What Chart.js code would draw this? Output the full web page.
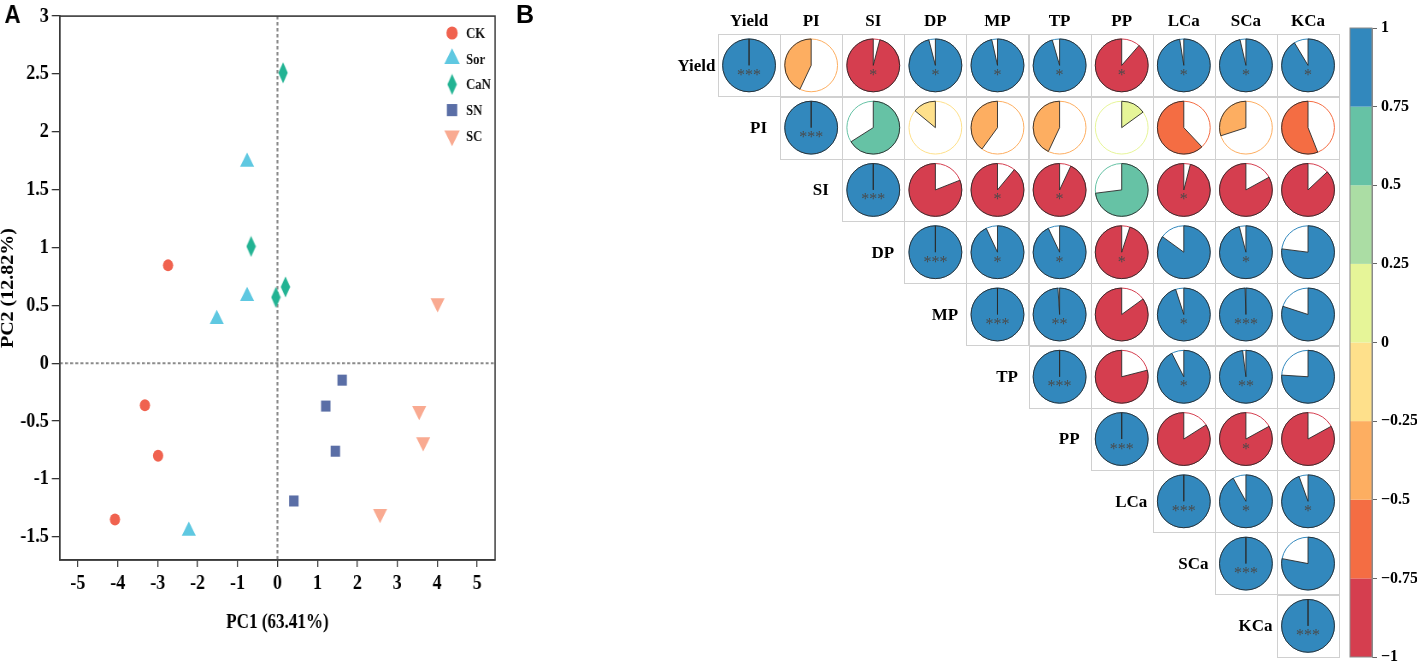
<!DOCTYPE html>
<html>
<head>
<meta charset="utf-8">
<title>PCA and correlation</title>
<script src="https://cdn.jsdelivr.net/npm/chart.js@4.4.1/dist/chart.umd.min.js"></script>
<style>
  html, body { margin: 0; padding: 0; background: #fff; overflow: hidden; }
  /* panel A is drawn wide and squeezed, like the original figure */
  #wrapA { position: absolute; left: 0; top: 0; width: 596px; height: 662px; transform: scaleX(0.855); transform-origin: 0 0; }
  #wrapB { position: absolute; left: 505px; top: 0; width: 912px; height: 672px; }
</style>
</head>
<body>
<div id="wrapA"><canvas id="pcaChart"></canvas></div>
<div id="wrapB"><canvas id="corrChart"></canvas></div>
<script>
// ---- panel A data ----
const groupNames = ['CK', 'Sor', 'CaN', 'SN', 'SC'];
const groupColors = ['#F0624F', '#5FC8E1', '#22B393', '#5A6EA6', '#F9AA91'];
const pc1Values = [
    [-2.74, -3.32, -2.99, -4.07],
    [-0.76, -0.76, -1.52, -2.22],
    [0.14, -0.66, 0.20, -0.04],
    [1.62, 1.21, 1.45, 0.41],
    [4.01, 3.55, 3.65, 2.57]
];
const pc2Values = [
    [0.846, -0.363, -0.80, -1.35],
    [1.74, 0.58, 0.38, -1.45],
    [2.51, 1.01, 0.66, 0.57],
    [-0.146, -0.37, -0.76, -1.19],
    [0.52, -0.41, -0.68, -1.30]
];
const pc1Ticks = [-5, -4, -3, -2, -1, 0, 1, 2, 3, 4, 5];
const pc2Ticks = [-1.5, -1, -0.5, 0, 0.5, 1, 1.5, 2, 2.5, 3];

// ---- panel B data ----
const varNames = ['Yield', 'PI', 'SI', 'DP', 'MP', 'TP', 'PP', 'LCa', 'SCa', 'KCa'];
// upper triangle: row i holds r for columns i..9
const corrRows = [
    [1, -0.43, -0.96, 0.96, 0.965, 0.955, -0.886, 0.975, 0.964, 0.914],
    [1, 0.66, -0.14, -0.40, -0.43, 0.15, -0.62, -0.30, -0.56],
    [1, -0.81, -0.89, -0.93, 0.73, -0.96, -0.83, -0.87],
    [1, 0.93, 0.93, -0.95, 0.85, 0.96, 0.77],
    [1, 0.99, -0.85, 0.95, 0.995, 0.80],
    [1, -0.79, 0.925, 0.98, 0.76],
    [1, -0.84, -0.83, -0.83],
    [1, 0.92, 0.945],
    [1, 0.78],
    [1]
];
const starRows = [
    ['***', '', '*', '*', '*', '*', '*', '*', '*', '*'],
    ['***', '', '', '', '', '', '', '', ''],
    ['***', '', '*', '*', '', '*', '', ''],
    ['***', '*', '*', '*', '', '*', ''],
    ['***', '**', '', '*', '***', ''],
    ['***', '', '*', '**', ''],
    ['***', '', '*', ''],
    ['***', '*', '*'],
    ['***', ''],
    ['***']
];
const cbTicks = [-1, -0.75, -0.5, -0.25, 0, 0.25, 0.5, 0.75, 1];
const spectral = ['#D53E4F', '#F46D43', '#FDAE61', '#FEE08B', '#E6F598', '#ABDDA4', '#66C2A5', '#3288BD'];

const serif = "'Liberation Serif', 'Times New Roman', serif";
const sans = "'Liberation Sans', Arial, sans-serif";

function makeDiamond(color) {
    const c = document.createElement('canvas');
    c.width = 12;
    c.height = 22;
    const g = c.getContext('2d');
    g.fillStyle = color;
    g.beginPath();
    g.moveTo(6, 0.5);
    g.lineTo(11.5, 11);
    g.lineTo(6, 21.5);
    g.lineTo(0.5, 11);
    g.closePath();
    g.fill();
    return c;
}

const groupStyles = ['circle', 'triangle', makeDiamond(groupColors[2]), 'rect', 'triangle'];
const groupSizes = [6, 9.5, 10, 7.8, 9.5];
const groupRotation = [0, 0, 0, 0, 180];

function binColor(r) {
    const k = Math.min(7, Math.max(0, Math.floor((r + 1) / 0.25)));
    return spectral[k];
}

function tickText(v) {
    return String(+v.toFixed(2));
}

const pcaDecor = {
    id: 'pcaDecor',
    beforeDatasetsDraw(chart) {
        const {ctx, chartArea: a, scales: {x, y}} = chart;
        const x0 = x.getPixelForValue(0), y0 = y.getPixelForValue(0);
        ctx.save();
        ctx.strokeStyle = '#8a8a8a';
        ctx.lineWidth = 2.2;
        ctx.setLineDash([3.5, 2.5]);
        ctx.beginPath();
        ctx.moveTo(x0, a.top);
        ctx.lineTo(x0, a.bottom);
        ctx.moveTo(a.left, y0);
        ctx.lineTo(a.right, y0);
        ctx.stroke();
        ctx.restore();
    },
    afterDraw(chart) {
        const {ctx, chartArea: a} = chart;
        ctx.save();
        ctx.strokeStyle = '#3a3a3a';
        ctx.lineWidth = 1.6;
        ctx.strokeRect(a.left, a.top, a.right - a.left, a.bottom - a.top);

        // legend inside the plot, top right
        const lx = 528.7, tx = 545;
        chart.data.datasets.forEach((ds, k) => {
            const ly = 33 + k * 25.7;
            ctx.fillStyle = ds.backgroundColor;
            const opts = {pointStyle: ds.pointStyle, radius: ds.pointRadius * 1.1, rotation: ds.pointRotation, borderWidth: 0};
            if (Chart.helpers && Chart.helpers.drawPoint) {
                Chart.helpers.drawPoint(ctx, opts, lx, ly);
            } else {
                ctx.beginPath();
                ctx.arc(lx, ly, 6, 0, Math.PI * 2);
                ctx.fill();
            }
            ctx.fillStyle = '#111';
            ctx.font = 'bold 15px ' + serif;
            ctx.textAlign = 'left';
            ctx.textBaseline = 'middle';
            ctx.fillText(ds.label, tx, ly + 1);
        });

        ctx.fillStyle = '#000';
        ctx.font = 'bold 26px ' + sans;
        ctx.textAlign = 'center';
        ctx.textBaseline = 'middle';
        ctx.fillText('A', 14.6, 16);
        ctx.restore();
    }
};

new Chart(document.getElementById('pcaChart'), {
    type: 'scatter',
    data: {
        datasets: groupNames.map((g, k) => ({
            label: g,
            data: pc1Values[k].map((v, i) => ({x: v, y: pc2Values[k][i]})),
            backgroundColor: groupColors[k],
            borderColor: groupColors[k],
            borderWidth: 0,
            pointStyle: groupStyles[k],
            pointRadius: groupSizes[k],
            pointHoverRadius: groupSizes[k],
            pointRotation: groupRotation[k]
        }))
    },
    options: {
        responsive: true,
        maintainAspectRatio: false,
        animation: false,
        events: [],
        layout: {padding: {top: 15, right: 17, left: 0, bottom: 0}},
        plugins: {legend: {display: false}, tooltip: {enabled: false}},
        scales: {
            x: {
                type: 'linear',
                min: -5.45,
                max: 5.45,
                afterBuildTicks: s => { s.ticks = pc1Ticks.map(v => ({value: v})); },
                afterFit: s => { s.height = 102; },
                grid: {display: true, drawOnChartArea: false, drawTicks: true, tickLength: 7, color: '#333', lineWidth: 1.3},
                border: {display: true, color: '#3a3a3a', width: 1.6},
                ticks: {autoSkip: false, maxRotation: 0, padding: 4, color: '#000',
                    font: {family: serif, size: 21, weight: 'bold'}, callback: v => tickText(v)},
                title: {display: true, text: 'PC1 (63.41%)', color: '#000',
                    font: {family: serif, size: 20, weight: 'bold', lineHeight: 1.2}, padding: {top: 0, bottom: 27}}
            },
            y: {
                type: 'linear',
                min: -1.7,
                max: 3,
                afterBuildTicks: s => { s.ticks = pc2Ticks.map(v => ({value: v})); },
                afterFit: s => { s.width = 70; },
                grid: {display: true, drawOnChartArea: false, drawTicks: true, tickLength: 9.4, color: '#333', lineWidth: 1.3},
                border: {display: true, color: '#3a3a3a', width: 1.8},
                ticks: {autoSkip: false, padding: 3.5, color: '#000',
                    font: {family: serif, size: 21, weight: 'bold'}, callback: v => tickText(v)},
                title: {display: true, text: 'PC2 (12.82%)', color: '#000',
                    font: {family: serif, size: 20, weight: 'bold', lineHeight: 1}, padding: 0}
            }
        }
    },
    plugins: [pcaDecor]
});

// ---- panel B ----
const cells = [];
corrRows.forEach((row, i) => row.forEach((v, m) => {
    cells.push({x: i + m + 0.5, y: i + 0.5, corr: v, stars: starRows[i][m]});
}));

function drawPie(ctx, cx, cy, rad, r) {
    const color = binColor(r);
    const start = -Math.PI / 2;
    const sweep = Math.abs(r) * Math.PI * 2;
    // the empty part keeps a thin ring in the slice colour
    ctx.beginPath();
    ctx.arc(cx, cy, rad, 0, Math.PI * 2);
    ctx.fillStyle = '#fff';
    ctx.fill();
    ctx.strokeStyle = color;
    ctx.lineWidth = 1;
    ctx.stroke();
    // filled slice: clockwise for positive, anticlockwise for negative
    ctx.beginPath();
    ctx.moveTo(cx, cy);
    ctx.arc(cx, cy, rad, start, r >= 0 ? start + sweep : start - sweep, r < 0);
    ctx.closePath();
    ctx.fillStyle = color;
    ctx.fill();
    ctx.strokeStyle = '#2a2a2a';
    ctx.lineWidth = 0.9;
    ctx.stroke();
}

const corrDecor = {
    id: 'corrDecor',
    afterDatasetsDraw(chart) {
        const {ctx, scales: {x, y, yc}} = chart;
        const cw = x.getPixelForValue(1) - x.getPixelForValue(0);
        const ch = y.getPixelForValue(1) - y.getPixelForValue(0);
        const rad = cw * 0.425;
        const pts = chart.getDatasetMeta(0).data;
        ctx.save();

        ctx.strokeStyle = '#d0d0d0';
        ctx.lineWidth = 1;
        cells.forEach(c => {
            const l = x.getPixelForValue(c.x - 0.5), t = y.getPixelForValue(c.y - 0.5);
            ctx.strokeRect(Math.round(l) + 0.5, Math.round(t) + 0.5, Math.round(cw), Math.round(ch));
        });

        cells.forEach((c, k) => {
            const p = pts[k];
            drawPie(ctx, p.x, p.y, rad, c.corr);
            if (c.stars) {
                ctx.fillStyle = '#4a4a4a';
                ctx.font = '16px ' + serif;
                ctx.textAlign = 'center';
                ctx.textBaseline = 'alphabetic';
                ctx.fillText(c.stars, p.x, p.y + 14.5);
            }
        });

        // row labels left of the diagonal
        ctx.fillStyle = '#000';
        ctx.font = 'bold 17px ' + serif;
        ctx.textAlign = 'center';
        ctx.textBaseline = 'middle';
        varNames.forEach((n, i) => {
            ctx.fillText(n, x.getPixelForValue(i) - 21.5, y.getPixelForValue(i + 0.5) + 1);
        });

        // colour bar
        const barW = 22;
        for (let k = 0; k < cbTicks.length - 1; k++) {
            const top = yc.getPixelForValue(cbTicks[k + 1]);
            const bot = yc.getPixelForValue(cbTicks[k]);
            ctx.fillStyle = spectral[k];
            ctx.fillRect(yc.left - barW, top, barW, bot - top);
        }
        ctx.strokeStyle = '#8a8a8a';
        ctx.lineWidth = 1;
        ctx.strokeRect(yc.left - barW, yc.getPixelForValue(1), barW, yc.getPixelForValue(-1) - yc.getPixelForValue(1));

        ctx.fillStyle = '#000';
        ctx.font = 'bold 25px ' + sans;
        ctx.textAlign = 'left';
        ctx.textBaseline = 'middle';
        ctx.fillText('B', 11, 16);
        ctx.restore();
    }
};

new Chart(document.getElementById('corrChart'), {
    type: 'scatter',
    data: {
        datasets: [{
            label: 'r',
            data: cells.map(c => ({x: c.x, y: c.y})),
            pointRadius: 0,
            pointHoverRadius: 0
        }]
    },
    options: {
        responsive: true,
        maintainAspectRatio: false,
        animation: false,
        events: [],
        layout: {padding: {left: 213, right: 0, top: 0, bottom: 15}},
        plugins: {legend: {display: false}, tooltip: {enabled: false}},
        scales: {
            x: {
                type: 'linear',
                position: 'top',
                min: 0,
                max: 10.53,
                afterBuildTicks: s => { s.ticks = varNames.map((n, i) => ({value: i + 0.5})); },
                afterFit: s => { s.height = 28; },
                grid: {display: false, drawTicks: false},
                border: {display: false},
                ticks: {autoSkip: false, maxRotation: 0, padding: -2, color: '#000',
                    font: {family: serif, size: 17, weight: 'bold', lineHeight: 1},
                    callback: (v, i) => varNames[i]}
            },
            y: {type: 'linear', display: false, reverse: true, min: -0.1, max: 10},
            yc: {
                type: 'linear',
                position: 'right',
                min: -1,
                max: 1,
                afterBuildTicks: s => { s.ticks = cbTicks.map(v => ({value: v})); },
                afterFit: s => { s.width = 45; },
                grid: {drawOnChartArea: false, drawTicks: true, tickLength: 5, color: '#666'},
                border: {display: true, color: '#8a8a8a'},
                ticks: {autoSkip: false, padding: 4, color: '#000',
                    font: {family: serif, size: 16, weight: 'bold'},
                    callback: v => v < 0 ? '\u2212' + tickText(-v) : tickText(v)}
            }
        }
    },
    plugins: [corrDecor]
});
</script>
</body>
</html>
